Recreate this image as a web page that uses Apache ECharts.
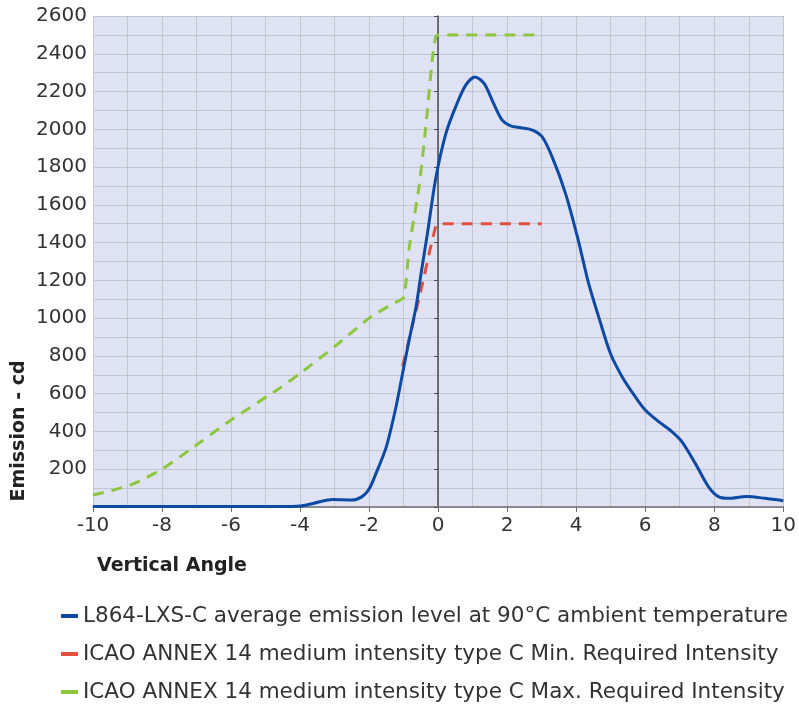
<!DOCTYPE html>
<html>
<head>
<meta charset="utf-8">
<script src="https://cdn.jsdelivr.net/npm/echarts@6/dist/echarts.min.js"></script>
<style>
  html, body { margin: 0; padding: 0; background: #fff; }
  #chart { width: 799px; height: 704px; }
</style>
</head>
<body>
<div id="chart"></div>
<script>
const seriesNames = [
  "L864-LXS-C average emission level at 90°C ambient temperature",
  "ICAO ANNEX 14 medium intensity type C Min. Required Intensity",
  "ICAO ANNEX 14 medium intensity type C Max. Required Intensity",
];

// [vertical angle, emission cd]
const emissionL864 = [
  [-10, 3], [-8, 3], [-6, 3], [-5, 2], [-4.6, 2], [-4, 5], [-3.6, 20], [-3.05, 40],
  [-2.5, 37], [-2.2, 55], [-2.0, 95], [-1.8, 178], [-1.5, 320], [-1.22, 531],
  [-1.03, 708], [-0.84, 884], [-0.64, 1060], [-0.5, 1230], [-0.31, 1449],
  [-0.07, 1740], [0.22, 1975], [0.51, 2120], [0.8, 2234], [1.07, 2277],
  [1.33, 2243], [1.6, 2140], [1.85, 2050], [2.1, 2018], [2.4, 2008],
  [2.73, 1996], [3.01, 1961], [3.3, 1855], [3.69, 1661], [4.05, 1420],
  [4.36, 1184], [4.65, 1008], [4.99, 814], [5.33, 690], [5.71, 584], [6.0, 514],
  [6.39, 452], [6.77, 399], [7.06, 346], [7.45, 231], [7.83, 108], [8.12, 55],
  [8.41, 46], [8.94, 55], [9.47, 46], [10, 33],
];

const icaoMin = [
  [-1.03, 745], [-0.74, 965], [-0.5, 1145], [-0.2, 1390], [-0.07, 1484], [0, 1500], [3, 1500],
];

const icaoMax = [
  [-10, 64], [-9.4, 90], [-8.8, 125], [-8, 200], [-7.2, 302], [-6, 461], [-4.6, 628],
  [-4, 708], [-3, 849], [-2, 1000], [-1.3, 1078], [-1, 1110], [-0.84, 1370],
  [-0.55, 1700], [-0.36, 2010], [-0.17, 2370], [-0.07, 2490], [0, 2500], [3, 2500],
];

const COLORS = ["#0d4aa3", "#e3503d", "#8dc63f"];
const FONT = "DejaVu Sans";
const TEXT = "#333333";
const GRID_LINE = "#c3c5d0";

const chart = echarts.init(document.getElementById("chart"));

chart.setOption({
  animation: false,
  color: COLORS,
  grid: {
    left: 93, right: 14, top: 16, bottom: 197,
    show: true, backgroundColor: "#dfe2f2", borderWidth: 0,
  },
  xAxis: {
    type: "value", min: -10, max: 10, interval: 2,
    axisLine: { onZero: false, lineStyle: { color: "#707070", width: 1.5 } },
    axisTick: { show: true, length: 5, lineStyle: { color: "#707070" } },
    axisLabel: { color: TEXT, fontFamily: FONT, fontSize: 20, margin: 9 },
    splitLine: { show: true, lineStyle: { color: GRID_LINE, width: 1 } },
    minorTick: { show: false, splitNumber: 2 },
    minorSplitLine: { show: true, lineStyle: { color: GRID_LINE, width: 1 } },
  },
  yAxis: [
    {
      type: "value", min: 0, max: 2600, interval: 200,
      axisLine: { show: false, onZero: false },
      axisTick: { show: false },
      axisLabel: {
        color: TEXT, fontFamily: FONT, fontSize: 20, margin: 6,
        formatter: (v) => (v === 0 ? "" : v),
      },
      splitLine: { show: true, lineStyle: { color: GRID_LINE, width: 1 } },
      minorTick: { show: false, splitNumber: 2 },
      minorSplitLine: { show: true, lineStyle: { color: GRID_LINE, width: 1 } },
    },
    {
      type: "value", min: 0, max: 2600, interval: 200,
      axisLine: { show: true, onZero: true, lineStyle: { color: "#4a4a4a", width: 1.5 } },
      axisTick: { show: true, inside: true, length: 4, lineStyle: { color: "#4a4a4a" } },
      axisLabel: { show: false },
      splitLine: { show: false },
    },
  ],
  legend: {
    orient: "vertical", left: 56, top: 600, height: 140, itemGap: 16,
    icon: "rect", itemWidth: 17, itemHeight: 4,
    textStyle: { color: TEXT, fontFamily: FONT, fontSize: 21.5, padding: [0, 0, 0, 0] },
    data: seriesNames,
  },
  graphic: [
    {
      type: "text", x: 19, y: 431, rotation: Math.PI / 2,
      style: {
        text: "Emission - cd", fill: "#222", align: "center", verticalAlign: "middle",
        fontFamily: FONT, fontSize: 19, fontWeight: "bold",
      },
    },
    {
      type: "text", x: 97, y: 566,
      style: {
        text: "Vertical Angle", fill: "#222", align: "left", verticalAlign: "middle",
        fontFamily: FONT, fontSize: 19, fontWeight: "bold",
      },
    },
  ],
  series: [
    {
      name: seriesNames[0], type: "line", data: emissionL864, smooth: 0.3,
      showSymbol: false, lineStyle: { color: COLORS[0], width: 3 }, z: 4,
    },
    {
      name: seriesNames[1], type: "line", data: icaoMin, smooth: 0.2,
      showSymbol: false, lineStyle: { color: COLORS[1], width: 3, type: [11, 8] }, z: 3,
    },
    {
      name: seriesNames[2], type: "line", data: icaoMax, smooth: 0.2,
      showSymbol: false, lineStyle: { color: COLORS[2], width: 3, type: [11, 8] }, z: 3,
    },
  ],
});
</script>
</body>
</html>
